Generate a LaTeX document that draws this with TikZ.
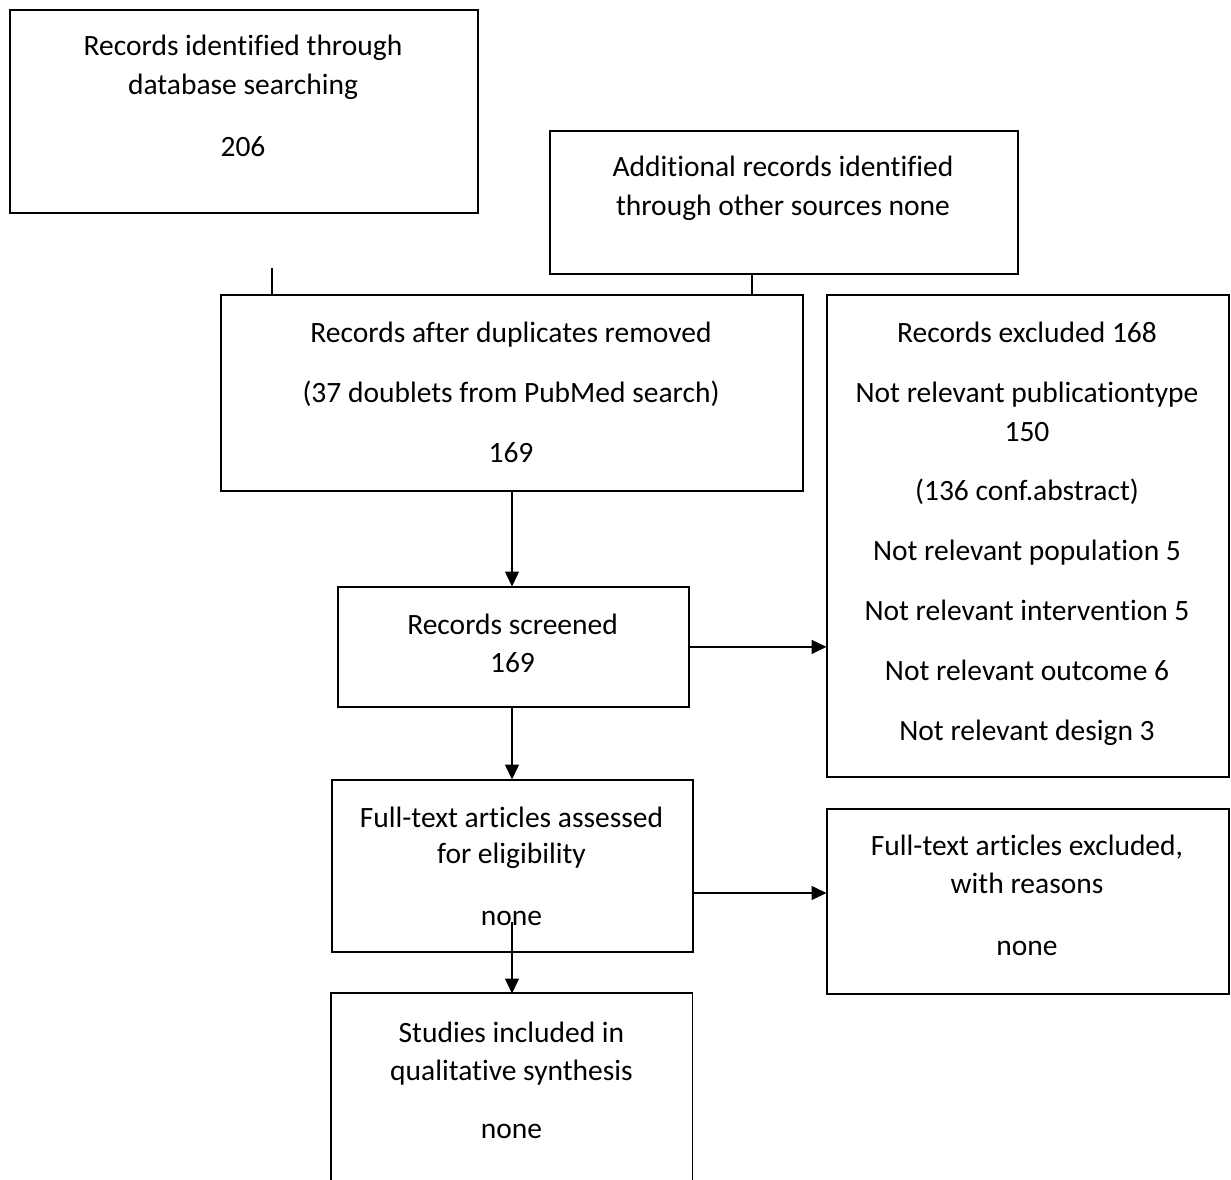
\documentclass[tikz,border=0pt]{standalone}
\usepackage{fontspec}
\setmainfont{Carlito}[Ligatures=NoCommon]
\usetikzlibrary{arrows.meta}
\begin{document}
\begin{tikzpicture}[x=1pt,y=-1pt,
  box/.style={draw, line width=1.8pt, inner sep=0pt, anchor=north west},
  boxline/.style={line width=1.8pt},
  lbl/.style={anchor=base, inner sep=0pt, font=\fontsize{29.5}{39}\selectfont},
  conn/.style={line width=1.5pt},
  arr/.style={line width=1.5pt, -{Triangle[length=15pt,width=14pt]}, shorten >=-0.5pt}]
\useasboundingbox (0,0) rectangle (1231,1180);
\fill[white] (0,0) rectangle (1231,1180);
% boxes
\node[box, minimum width=468pt, minimum height=203pt] (A) at (9,9) {};
\node[box, minimum width=468pt, minimum height=143pt] (B) at (549,130) {};
\node[box, minimum width=582pt, minimum height=196pt] (C) at (220,294) {};
\node[box, minimum width=402pt, minimum height=482pt] (D) at (826,294) {};
\node[box, minimum width=351pt, minimum height=120pt] (E) at (337,586) {};
\node[box, minimum width=361pt, minimum height=172pt] (F) at (331,779) {};
\node[box, minimum width=402pt, minimum height=185pt] (H) at (826,808) {};
\node[inner sep=0pt, anchor=north west, minimum width=361pt, minimum height=190pt] (G) at (331,993) {};
\draw[boxline] (G.south west) |- (G.north east) -- (G.south east);
% texts
\node[lbl] (a1) at (243,56) {Records identified through};
\node[lbl] (a2) at (243,95) {database searching};
\node[lbl] (a3) at (243,157) {206};
\node[lbl] (b1) at (783,176) {Additional records identified};
\node[lbl] (b2) at (783,215) {through other sources none};
\node[lbl] (c1) at (511,342) {Records after duplicates removed};
\node[lbl] (c2) at (511,402) {(37 doublets from PubMed search)};
\node[lbl] (c3) at (511,462) {169};
\node[lbl] (d1) at (1027,342) {Records excluded 168};
\node[lbl] (d2) at (1027,402) {Not relevant publicationtype};
\node[lbl] (d3) at (1027,441) {150};
\node[lbl] (d4) at (1027,500) {(136 conf.abstract)};
\node[lbl] (d5) at (1027,560) {Not relevant population 5};
\node[lbl] (d6) at (1027,620) {Not relevant intervention 5};
\node[lbl] (d7) at (1027,680) {Not relevant outcome 6};
\node[lbl] (d8) at (1027,740) {Not relevant design 3};
\node[lbl] (e1) at (512.5,634) {Records screened};
\node[lbl] (e2) at (512.5,672) {169};
\node[lbl] (f1) at (511.5,827) {Full-text articles assessed};
\node[lbl] (f2) at (511.5,863) {for eligibility};
\node[lbl] (f3) at (511.5,925) {none};
\node[lbl] (h1) at (1027,855) {Full-text articles excluded,};
\node[lbl] (h2) at (1027,893) {with reasons};
\node[lbl] (h3) at (1027,955) {none};
\node[lbl] (g1) at (511.5,1042) {Studies included in};
\node[lbl] (g2) at (511.5,1080) {qualitative synthesis};
\node[lbl] (g3) at (511.5,1138) {none};
% connectors
\coordinate (t1) at (272,268);
\coordinate (t2) at (752,273);
\draw[conn] (t1) -- (t1 |- C.north);
\draw[conn] (t2) -- (t2 |- C.north);
\draw[arr] (C.south -| 512,0) -- (E.north -| 512,0);
\draw[arr] (E.east) -- (E.east -| D.west);
\draw[arr] (E.south -| 512,0) -- (F.north -| 512,0);
\coordinate (fh) at (692,893);
\draw[arr] (fh) -- (fh -| H.west);
\coordinate (fg) at (512,922);
\draw[arr] (fg) -- (fg |- G.north);
\end{tikzpicture}
\end{document}
